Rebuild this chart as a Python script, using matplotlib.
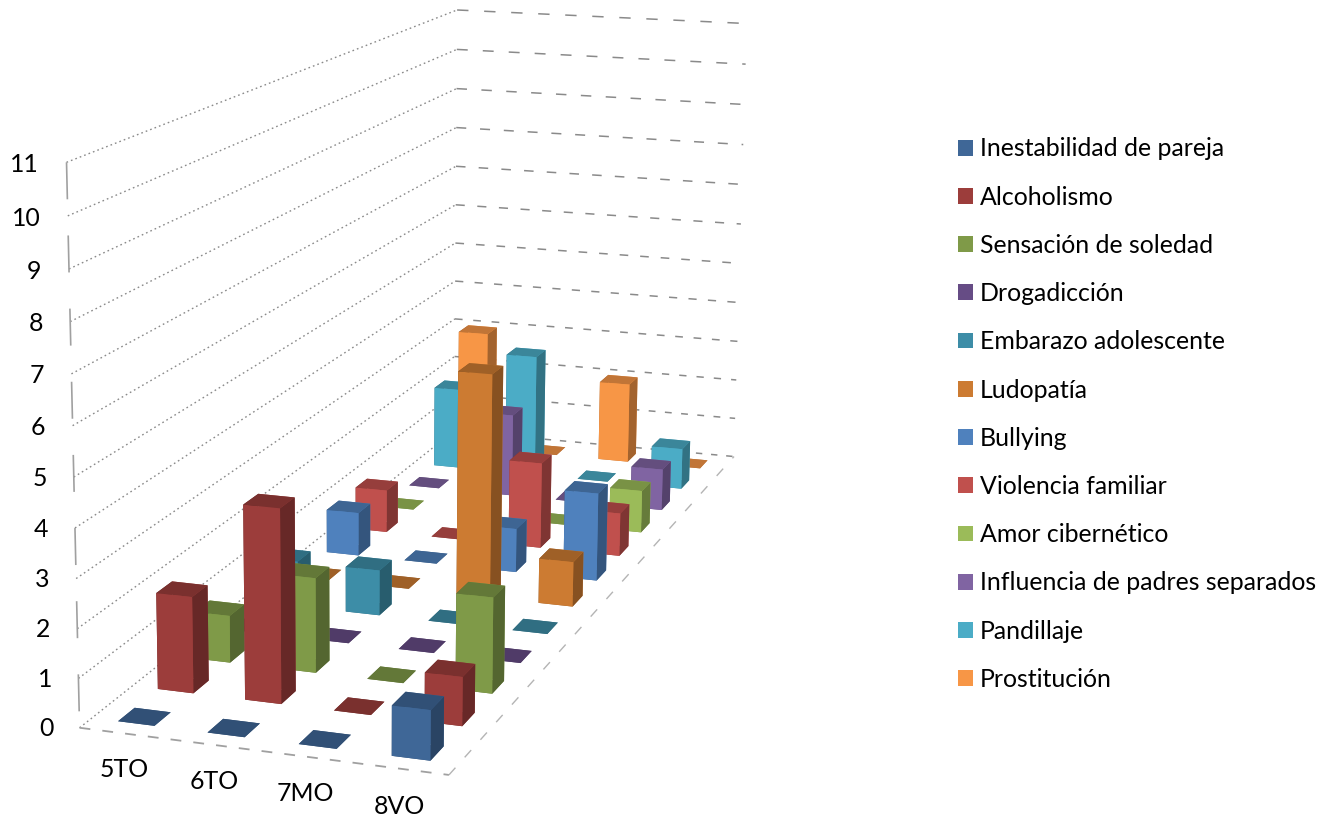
import numpy as np
import matplotlib
matplotlib.use('Agg')
import matplotlib.pyplot as plt
from matplotlib.patches import Patch
from mpl_toolkits.mplot3d.art3d import Line3DCollection

plt.rcParams['font.family'] = ['Lato', 'DejaVu Sans']

categories = ['5TO', '6TO', '7MO', '8VO']
value_ticks = list(range(12))

inestabilidad = [0, 0, 0, 1]
alcoholismo = [2, 4, 0, 1]
soledad = [1, 2, 0, 2]
drogadiccion = [0, 0, 0, 0]
embarazo = [1, 1, 0, 0]
ludopatia = [0, 0, 5, 1]
bullying = [1, 0, 1, 2]
violencia = [1, 0, 2, 1]
amor = [0, 0, 0, 1]
influencia = [0, 2, 0, 1]
pandillaje = [2, 3, 0, 1]
prostitucion = [3, 0, 2, 0]

series_names = ['Inestabilidad de pareja', 'Alcoholismo', 'Sensación de soledad', 'Drogadicción',
                'Embarazo adolescente', 'Ludopatía', 'Bullying', 'Violencia familiar', 'Amor cibernético',
                'Influencia de padres separados', 'Pandillaje', 'Prostitución']
series_values = [inestabilidad, alcoholismo, soledad, drogadiccion, embarazo, ludopatia, bullying, violencia,
                 amor, influencia, pandillaje, prostitucion]
series_colors = ['#3F6797', '#9C3D3B', '#7F9A48', '#664C85', '#3D8DA7', '#CC7B32',
                 '#4F81BD', '#C0504D', '#9BBB59', '#8064A2', '#4BACC6', '#F79646']

W, H = 1322, 821
n_cat = len(categories)
n_ser = len(series_names)
top = value_ticks[-1]

# where the corners of the 3d box sit in the picture, the camera is solved from these
box_xyz = [(0, 0, 0), (n_cat, 0, 0), (n_cat, n_ser, 0), (0, n_ser, 0),
           (0, 0, top), (0, n_ser, top), (n_cat, n_ser, top)]
box_px = [(80, 727), (450, 775), (735, 457), (452, 431), (65, 163), (460, 10), (745, 23)]


def solve_camera():
    rows = []
    for (x, y, z), (u, v) in zip(box_xyz, box_px):
        rows.append([x, y, z, 1, 0, 0, 0, 0, -u * x, -u * y, -u * z, -u])
        rows.append([0, 0, 0, 0, x, y, z, 1, -v * x, -v * y, -v * z, -v])
    p = np.linalg.svd(np.array(rows))[2][-1].reshape(3, 4)
    if p[2, 3] < 0:
        p = -p
    return p / p[2, 3]


camera = solve_camera()


def shade(color, f):
    return tuple(c * f for c in matplotlib.colors.to_rgb(color))


def add_line(start, end, color, lw, dashes):
    col = Line3DCollection([[start, end]], colors=color, linewidths=lw, linestyles=[(0, dashes)], zorder=1)
    ax.add_collection3d(col)


fig = plt.figure(figsize=(W / 100, H / 100), dpi=100)
# square axes wider than the figure so nothing gets cut
ax = fig.add_axes([0, (1 - W / H) / 2, 1, W / H], projection='3d', computed_zorder=False)
ax.set_axis_off()
ax.set_xticks([])
ax.set_yticks([])
ax.set_zticks([])


def get_proj():
    flip = np.array([[1, 0, 0], [0, -1, H], [0, 0, 1]])
    q = ax.transData.inverted().get_matrix() @ flip @ camera
    return np.array([q[0], q[1], q[2] - np.array([0, 0, 0, 0.5]), q[2]])


ax.get_proj = get_proj

grid_gray = '#8a8a8a'

# walls and floor
for v in value_ticks:
    add_line((0, 0, v), (0, n_ser, v), grid_gray, 1.0, (1.2, 2.2))
    period = (23 + 18 * v / top) * 0.72 * 0.6
    add_line((0, n_ser, v), (n_cat, n_ser, v), grid_gray, 1.1, (period * 0.42, period * 0.58))
add_line((0, 0, 0), (n_cat, 0, 0), '#a0a0a0', 1.3, (6, 6.7))
add_line((n_cat, 0, 0), (n_cat, n_ser, 0), '#b4b4b4', 1.0, (7, 10))
add_line((0, 0, top), (0, 0, 0), '#a0a0a0', 1.2, (22.2, 21.7))

# bars, from the back row to the front one
bar_w = 0.41
bar_d = 0.41
order = 1
for s in range(n_ser - 1, -1, -1):
    for c in range(n_cat):
        order += 1
        col = series_colors[s]
        value = series_values[s][c]
        top_col = shade(col, 0.78)
        side_col = shade(col, 0.66)
        ax.bar3d(c + 0.5 - bar_w / 2, s + 0.5 - bar_d / 2, 0, bar_w, bar_d, value,
                 color=[top_col, top_col, col, col, side_col, side_col],
                 shade=False, linewidth=0, zorder=order)

# tick labels
for v in value_ticks:
    ax.text(-0.3, 0, v - 0.08, str(v), ha='right', va='center', fontsize=17.9, color='black', zorder=order + 1)
for c, name in enumerate(categories):
    ax.text(c * 0.96 + 0.92, -0.9, 0, name, ha='center', va='center', fontsize=17.9, color='black', zorder=order + 1)

handles = [Patch(facecolor=col, edgecolor='none') for col in series_colors]
fig.legend(handles, series_names, loc='upper left', bbox_to_anchor=(958 / W, 1 - 137.5 / H), frameon=False,
           fontsize=17.9, labelspacing=1.014, handlelength=0.6, handleheight=0.6, handletextpad=0.28,
           borderpad=0, borderaxespad=0)

fig.savefig('out.png', dpi=100)
